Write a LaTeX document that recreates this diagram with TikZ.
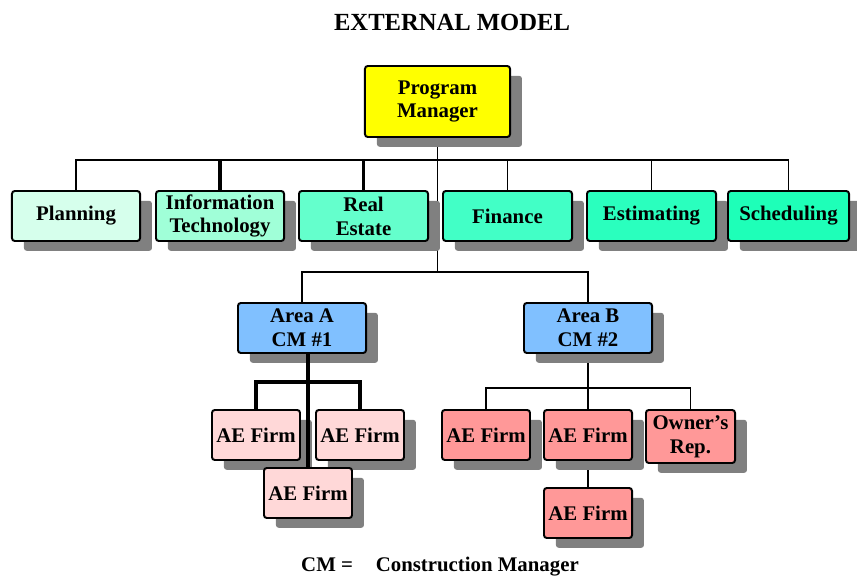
\documentclass[tikz,border=0pt]{standalone}
\usepackage{fontspec}
\setmainfont{Liberation Serif}
\usetikzlibrary{shadows,backgrounds}

\definecolor{pmyellow}{RGB}{255,255,0}
\definecolor{planfill}{RGB}{214,255,236}
\definecolor{itfill}{RGB}{160,255,216}
\definecolor{refill}{RGB}{100,255,204}
\definecolor{finfill}{RGB}{66,255,198}
\definecolor{estfill}{RGB}{42,255,190}
\definecolor{schedfill}{RGB}{30,255,184}
\definecolor{areafill}{RGB}{128,192,255}
\definecolor{firmlight}{RGB}{255,216,216}
\definecolor{firmdark}{RGB}{255,152,152}
\definecolor{shadowgray}{RGB}{128,128,128}

\begin{document}
\begin{tikzpicture}[x=0.025cm, y=-0.025cm,
  font=\fontsize{14.8}{17}\selectfont\bfseries,
  orgbox/.style={rectangle, draw, line width=1.4pt, rounded corners=2pt, inner sep=0pt, align=center,
    minimum width=3.2cm, minimum height=1.25cm,
    drop shadow={shadow xshift=8.5pt, shadow yshift=-7pt, fill=shadowgray, opacity=1}},
  firmbox/.style={orgbox, minimum width=2.2cm},
  conn/.style={line width=1.4pt},
  thickconn/.style={line width=2.5pt}
  ]
\useasboundingbox (0,0) rectangle (857,578);

% Title
\node[font=\fontsize{17.5}{20}\selectfont\bfseries] (title) at (452,22) {EXTERNAL MODEL};

% Top level
\node[orgbox, fill=pmyellow, minimum width=3.625cm, minimum height=1.775cm] (pm) at (437.5,101.5) {Program\\Manager};

% Staff row
\node[orgbox, fill=planfill] (plan) at (76,216) {Planning};
\node[orgbox, fill=itfill] (it) at (220,216) {Information\\Technology};
\node[orgbox, fill=refill, minimum width=3.225cm] (re) at (363.5,216) {Real\\Estate};
\node[orgbox, fill=finfill, minimum width=3.225cm] (fin) at (507.5,216) {Finance};
\node[orgbox, fill=estfill, minimum width=3.225cm] (est) at (651.5,216) {Estimating};
\node[orgbox, fill=schedfill, minimum width=3.025cm] (sched) at (788.5,216) {Scheduling};

% Areas
\node[orgbox, fill=areafill] (areaA) at (302,328) {Area A\\CM \#1};
\node[orgbox, fill=areafill] (areaB) at (588,328) {Area B\\CM \#2};

% Area A firms
\node[firmbox, fill=firmlight] (firmA1) at (256,435) {AE Firm};
\node[firmbox, fill=firmlight] (firmA2) at (360,435) {AE Firm};
\node[firmbox, fill=firmlight] (firmA3) at (308,493) {AE Firm};

% Area B firms
\node[firmbox, fill=firmdark] (firmB1) at (486,435) {AE Firm};
\node[firmbox, fill=firmdark] (firmB2) at (588,435) {AE Firm};
\node[firmbox, fill=firmdark, minimum width=2.225cm, minimum height=1.325cm] (owner) at (690.5,436.5) {Owner's\\Rep.};
\node[firmbox, fill=firmdark] (firmB3) at (588,513) {AE Firm};

% Connectors
\coordinate (topbus) at (437.5,160);
\coordinate (midbus) at (437.5,272);
\coordinate (busA) at (308,382);
\coordinate (busB) at (588,388);
\begin{scope}[on background layer]
\draw[conn] (pm.south) -- (midbus);
\draw[conn] (plan.north) |- (topbus) -| (sched.north);
\foreach \n in {fin,est} \draw[conn] (\n.north) -- (\n.north |- topbus);
\foreach \n in {it,re} \draw[thickconn] (\n.north) -- (\n.north |- topbus);
\draw[conn] (areaA.north) |- (midbus) -| (areaB.north);
\draw[conn] (areaB.south) -- (firmB2.north);
\draw[conn] (firmB1.north) |- (busB) -| (owner.north);
\draw[conn] (firmB2.south) -- (firmB3.north);
\end{scope}
\draw[thickconn] (firmA3.north |- areaA.south) -- (firmA3.north);
\draw[thickconn] (firmA1.north) |- (busA) -| (firmA2.north);

% Legend
\node (legend) at (440,567) {CM =\hspace{1.1em}Construction Manager};
\end{tikzpicture}
\end{document}
